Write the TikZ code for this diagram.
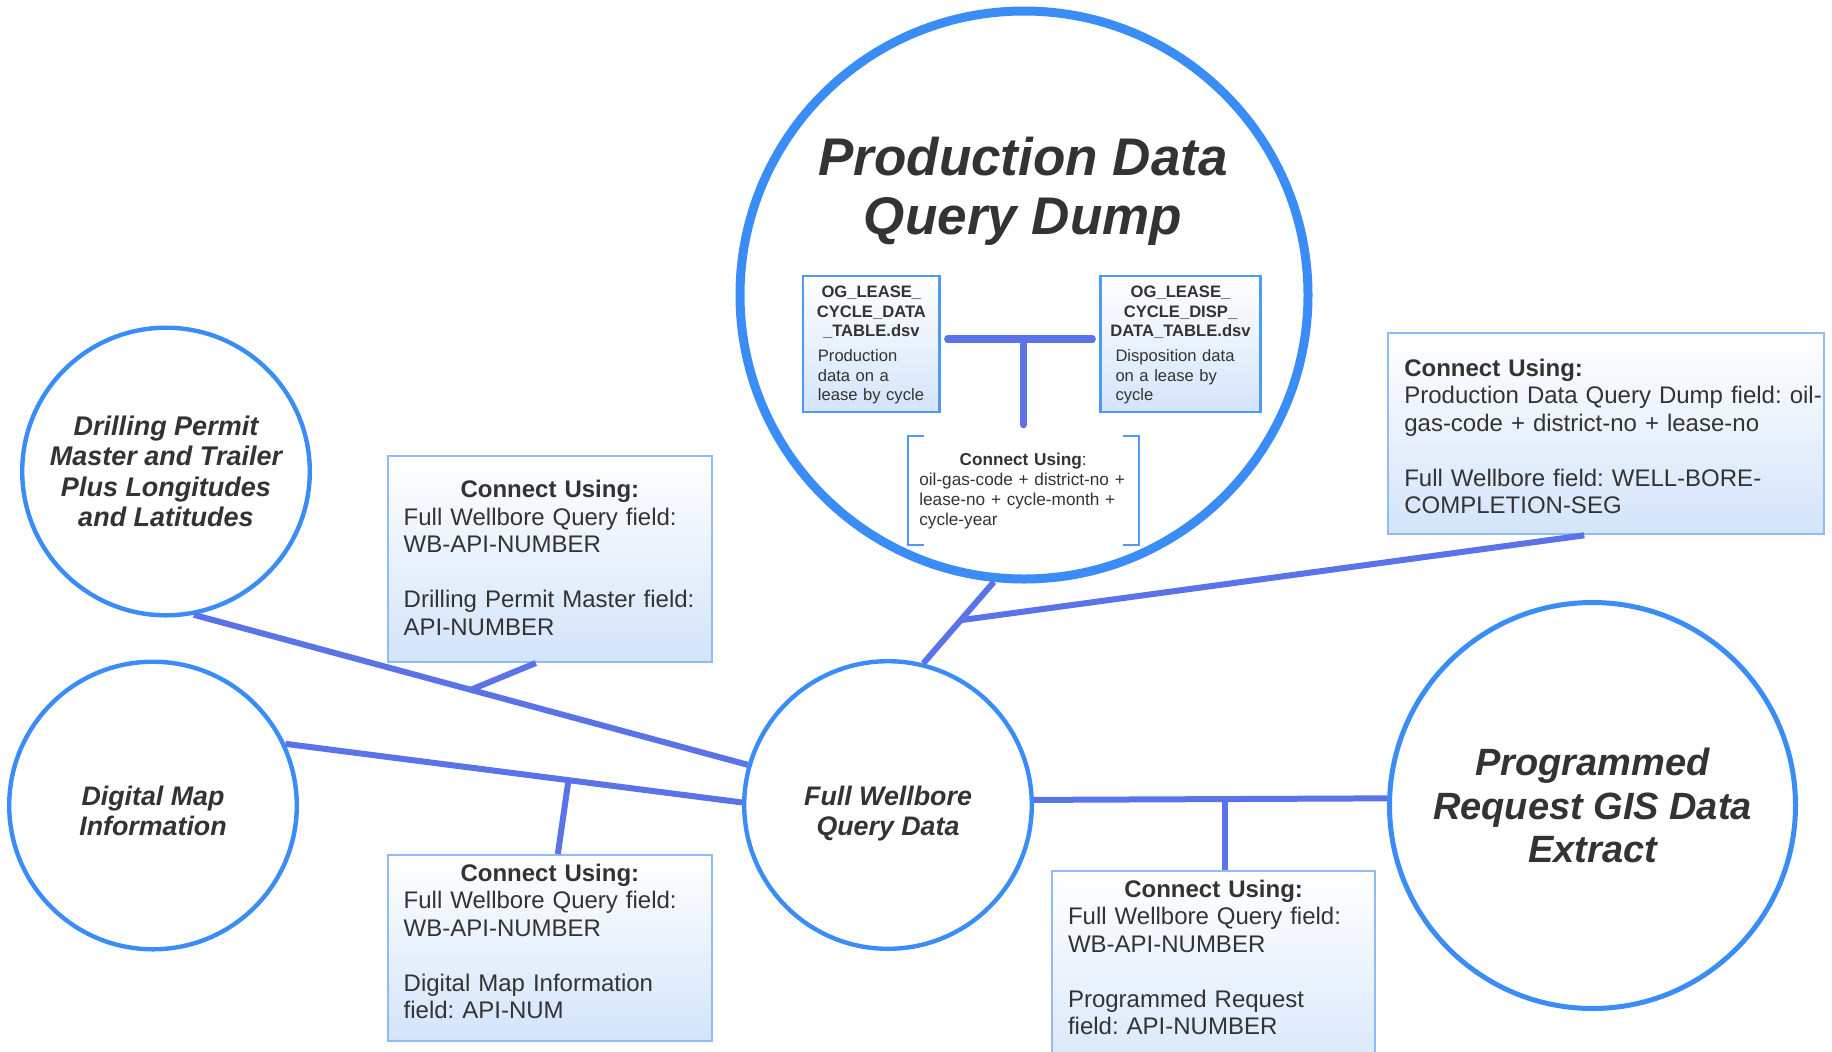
\documentclass[tikz,border=0pt]{standalone}
\usepackage{fontspec}
\setmainfont{Liberation Sans}
\usetikzlibrary{calc}
\setlength{\parindent}{0pt}
\frenchspacing

\definecolor{ringblue}{HTML}{3A8DF7}
\definecolor{linkblue}{HTML}{5B73E8}
\definecolor{keyline}{HTML}{8EBCF3}
\definecolor{keyfill}{HTML}{D3E4FA}
\definecolor{tableline}{HTML}{4F9AF2}
\definecolor{inkgray}{HTML}{333333}

\newcommand{\bubblefont}[2]{\fontsize{#1}{#2}\selectfont\bfseries\itshape}

\tikzset{bubble/.style={circle, draw=ringblue, line width=2.2pt, fill=white,
	text=inkgray, align=center, inner sep=0pt},
	keybox/.style={rectangle, draw=keyline, line width=1pt, top color=white,
	bottom color=keyfill, text=inkgray, align=left, anchor=north west,
	inner xsep=8pt, inner ysep=0pt, font=\fontsize{12}{13.75}\selectfont},
	tablebox/.style={rectangle, draw=tableline, line width=1.2pt, top color=white,
	bottom color=keyfill, text=inkgray, align=left, anchor=north west,
	inner xsep=3pt, inner ysep=0pt, text height=10.5pt, text depth=57.5pt,
	font=\fontsize{8.3}{9.9}\selectfont},
	keybracket/.style={draw=tableline, line width=1pt},
	link/.style={draw=linkblue, line width=3pt},
	tlink/.style={draw=linkblue, line width=3.6pt, line cap=round}}

\begin{document}
\begin{tikzpicture}[x=0.5pt,y=-0.5pt]
	\clip (0,0) rectangle (1832,1051);
	\fill[white] (0,0) rectangle (1832,1051);

	% data sources
	\node[bubble, minimum size=284pt, line width=4.5pt] (prod) at (1024,295) {};
	\node[bubble, minimum size=143.8pt, font=\bubblefont{13.5}{15.25}] (drill) at (166,471.5)
		{Drilling Permit\\Master and Trailer\\Plus Longitudes\\and Latitudes};
	\node[bubble, minimum size=143.8pt, font=\bubblefont{13.4}{15}, text height=35pt, text depth=5pt] (digimap) at (153,805.5)
		{Digital Map\\Information};
	\node[bubble, minimum size=143.8pt, font=\bubblefont{13.4}{15}, text height=35pt, text depth=5pt] (wellbore) at (888,805)
		{Full Wellbore\\Query Data};
	\node[bubble, minimum size=203pt, line width=2.5pt, font=\bubblefont{19}{21.75}] (gisreq) at (1592.5,805.5)
		{Programmed\\Request GIS Data\\Extract};

	% inside the production dump
	\node[text=inkgray, align=center, font=\bubblefont{26.5}{29.5}] (prodtitle) at (1023,191)
		{Production Data\\Query Dump};
	\node[tablebox, text width=62.15pt] (og1) at (802,275)
		{{\centering\bfseries OG\_LEASE\_\\CYCLE\_DATA\\\_TABLE.dsv\par}\vspace{2.3pt}%
		{\leftskip=4.35pt Production\\data on a\\lease by cycle\par}};
	\node[tablebox, text width=74pt] (og2) at (1099.3,275)
		{{\centering\bfseries OG\_LEASE\_\\CYCLE\_DISP\_\\DATA\_TABLE.dsv\par}\vspace{2.3pt}%
		{\leftskip=4.5pt Disposition data\\on a lease by\\cycle\par}};
	\node[anchor=north west, outer sep=0pt, inner xsep=5.8pt, inner ysep=0pt, text width=103.9pt,
		text height=14.65pt, text depth=40pt, align=left, text=inkgray,
		font=\fontsize{8.6}{10}\selectfont] (joinkey) at (907.7,435.7)
		{{\centering\textbf{Connect Using}:\par}oil-gas-code + district-no +\\lease-no + cycle-month +\\cycle-year};
	\draw[keybracket] ($(joinkey.north west)+(16,0)$) -- (joinkey.north west) -- (joinkey.south west) -- ++(16,0);
	\draw[keybracket] ($(joinkey.north east)+(-16,0)$) -- (joinkey.north east) -- (joinkey.south east) -- ++(-16,0);
	\coordinate (tbar) at ([yshift=2.6pt]og1.east);
	\draw[tlink, shorten <=3.5pt, shorten >=3.5pt] (tbar) -- (tbar -| og2.west);
	\draw[tlink] ($(joinkey.north)+(0,-11)$) -- (joinkey.north |- tbar);

	% join keys
	\node[keybox, text width=146.15pt, text height=20.85pt, text depth=82.15pt] (dpkey) at (386.7,455)
		{{\centering\bfseries Connect Using:\par}Full Wellbore Query field:\\WB-API-NUMBER\\[13.75pt]Drilling Permit Master field:\\API-NUMBER};
	\node[keybox, text width=146.15pt, text height=13pt, text depth=80pt] (dmkey) at (386.7,854)
		{{\centering\bfseries Connect Using:\par}Full Wellbore Query field:\\WB-API-NUMBER\\[13.75pt]Digital Map Information\\field: API-NUM};
	\node[keybox, text width=145.65pt, text height=13pt, text depth=100pt] (grkey) at (1051,870)
		{{\centering\bfseries Connect Using:\par}Full Wellbore Query field:\\WB-API-NUMBER\\[13.75pt]Programmed Request\\field: API-NUMBER};
	\node[keybox, text width=202pt, text height=21.65pt, text depth=79.15pt] (pdkey) at (1387.3,331.7)
		{\textbf{Connect Using:}\\\mbox{Production Data Query Dump field: oil-}\\gas-code + district-no + lease-no\\[13.75pt]Full Wellbore field: WELL-BORE-\\COMPLETION-SEG};

	% links
	\draw[link] (prod.-96) -- coordinate[pos=0.47] (pj) (wellbore.76);
	\draw[link] (pj) -- ($(pdkey.south)+(-22,0)$);
	\draw[link] (drill.-79) -- coordinate[pos=0.5] (dj) (wellbore.164);
	\draw[link] (dj) -- ($(dpkey.south)+(-14,0)$);
	\draw[link] (digimap.25) -- coordinate[pos=0.62] (mj) (wellbore.179);
	\draw[link] (mj) -- ($(dmkey.north)+(8,0)$);
	\draw[link] (wellbore.2) -- coordinate[pos=0.54] (gj) (gisreq.178);
	\draw[link] (gj) -- (gj |- grkey.north);
\end{tikzpicture}
\end{document}
